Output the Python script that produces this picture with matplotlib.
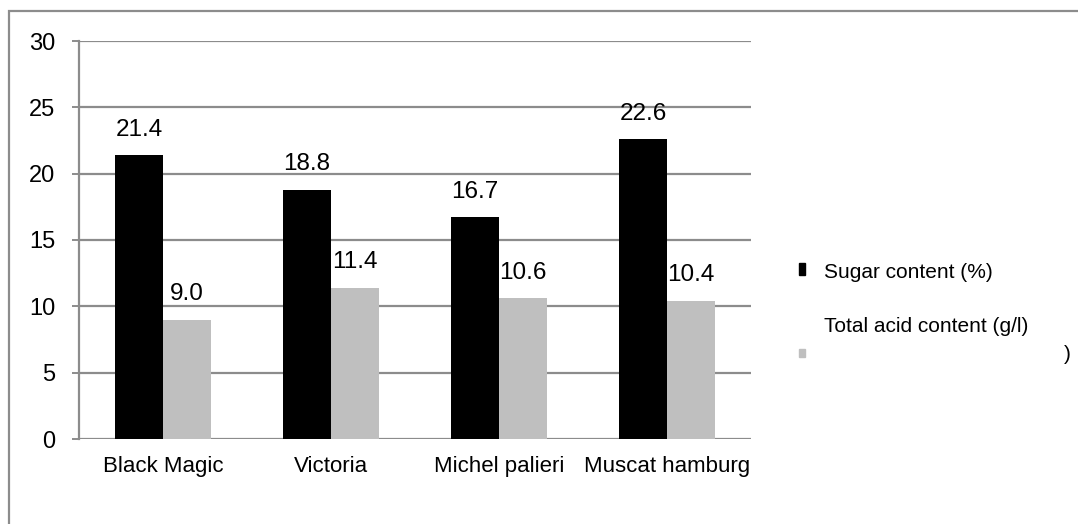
import matplotlib
matplotlib.use("Agg")
import matplotlib.pyplot as plt
from matplotlib.patches import Rectangle
import numpy as np

plt.rcParams['font.family'] = ['Liberation Sans', 'DejaVu Sans']

# Grape cultivars and measured quality traits
cultivars = ["Black Magic", "Victoria", "Michel palieri", "Muscat hamburg"]
sugar = [21.4, 18.8, 16.7, 22.6]        # Sugar content (%)
acid = [9.0, 11.4, 10.6, 10.4]          # Total acid content (g/l)
series_names = ["Sugar content (%)", "Total acid content (g/l)"]
y_ticks = [0, 5, 10, 15, 20, 25, 30]

W, H = 1078, 524
fig = plt.figure(figsize=(W / 100, H / 100), dpi=100)

def fx(px):
    return px / W

def fy(py):
    return 1 - py / H

# outer chart frame (runs past the right and bottom edges)
fig.patches.append(Rectangle((fx(9), fy(540)), fx(1100) - fx(9), fy(11) - fy(540),
                             transform=fig.transFigure, fill=False,
                             edgecolor="#8c8c8c", linewidth=1.6, clip_on=False))

ax = fig.add_axes([fx(79), fy(439), fx(751) - fx(79), fy(41) - fy(439)])

x = np.arange(len(cultivars))
bw = 0.285
b1 = ax.bar(x - bw / 2, sugar, width=bw, color="black", zorder=3)
b2 = ax.bar(x + bw / 2, acid, width=bw, color="#bfbfbf", zorder=3)

for bars, vals in ((b1, sugar), (b2, acid)):
    for r, v in zip(bars, vals):
        ax.annotate(f"{v:.1f}", (r.get_x() + r.get_width() / 2, v),
                    xytext=(0, 10.5), textcoords="offset points",
                    ha="center", va="bottom", fontsize=17.5, color="black")

ax.set_xlim(-0.5, len(cultivars) - 0.5)
ax.set_ylim(0, 30)
ax.set_yticks(y_ticks)
ax.set_yticklabels([str(t) for t in y_ticks], fontsize=17)
ax.set_xticks(x)
ax.set_xticklabels(cultivars, fontsize=16)
ax.tick_params(axis="x", length=0, pad=12)
ax.tick_params(axis="y", length=5, width=1.4, color="#8c8c8c", pad=12)

ax.grid(axis="y", color="#8c8c8c", linewidth=1.6, zorder=0)
for side in ("top", "right", "bottom"):
    ax.spines[side].set_visible(False)
ax.spines["left"].set_color("#8c8c8c")
ax.spines["left"].set_linewidth(1.6)

# legend drawn by hand
fig.patches.append(Rectangle((fx(799), fy(275)), fx(6), fy(263) - fy(275),
                             transform=fig.transFigure, color="black"))
fig.text(fx(824), fy(273), series_names[0], fontsize=15, va="center", ha="left")
fig.text(fx(824), fy(326), series_names[1], fontsize=15, va="center", ha="left")
fig.patches.append(Rectangle((fx(799), fy(357)), fx(6), fy(349) - fy(357),
                             transform=fig.transFigure, color="#bfbfbf"))
fig.text(fx(1064), fy(354), ")", fontsize=15, va="center", ha="left")

fig.savefig("out.png", dpi=100, facecolor="white")
